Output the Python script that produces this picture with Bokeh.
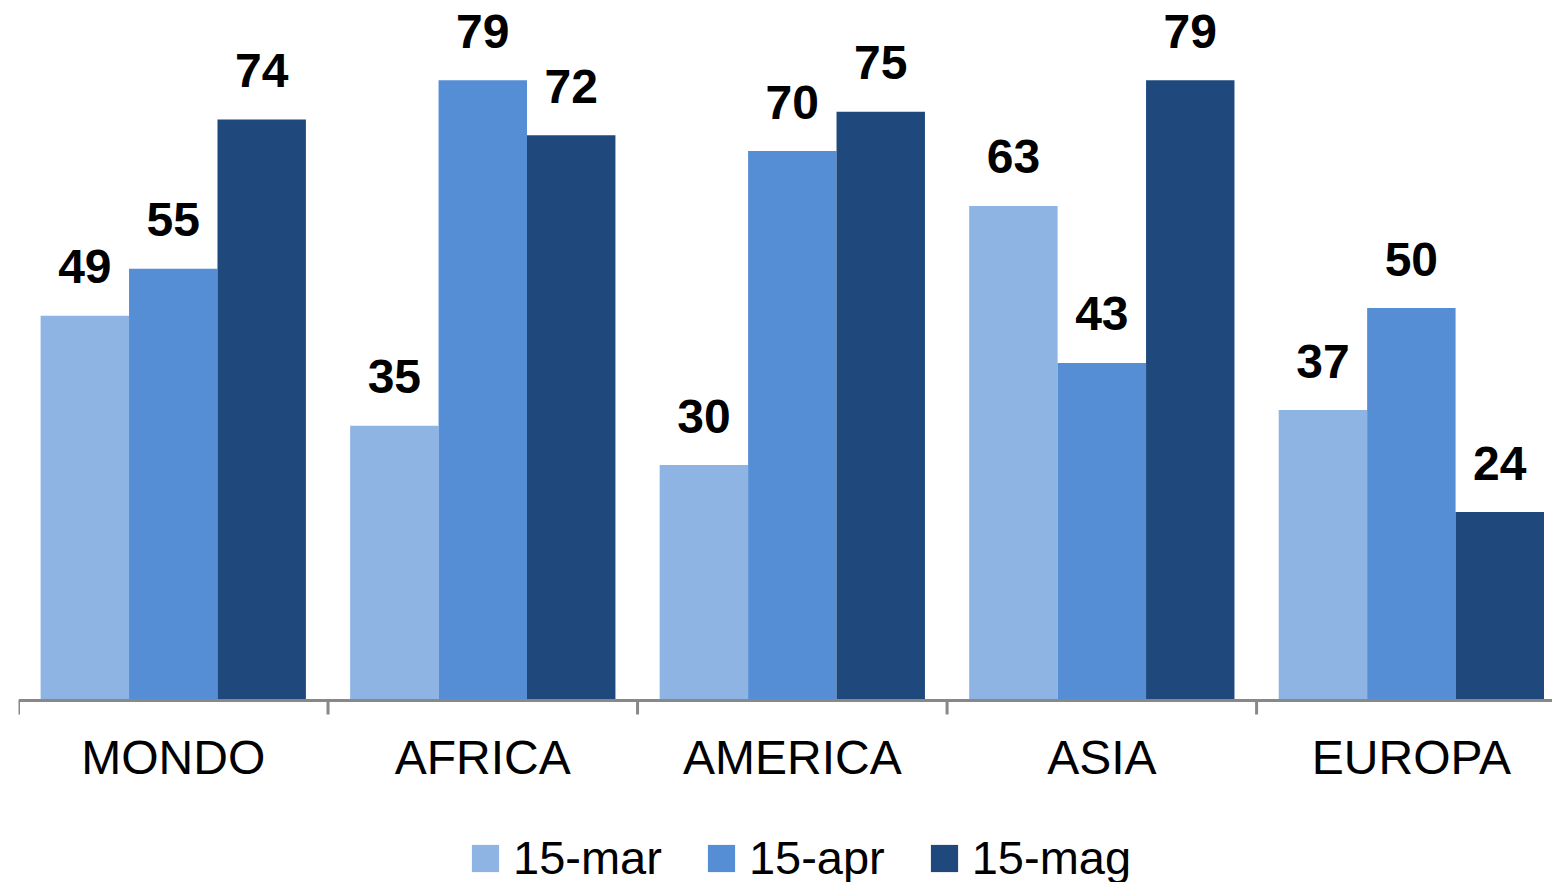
import numpy as np
from bokeh.plotting import figure
from bokeh.models import (Range1d, ColumnDataSource, Legend, LegendItem, Span)
from bokeh.embed import file_html
from bokeh.resources import INLINE
from bokeh.core.properties import value

# ---- data ----
categories = ["MONDO", "AFRICA", "AMERICA", "ASIA", "EUROPA"]
series_names = ["15-mar", "15-apr", "15-mag"]
mar_values = [49, 35, 30, 63, 37]
apr_values = [55, 79, 70, 43, 50]
mag_values = [74, 72, 75, 79, 24]
colors = ["#8EB4E3", "#558ED5", "#1F497D"]

series_values = [mar_values, apr_values, mag_values]

W, H = 1552, 882
PX_PER_UNIT = 7.85
BASE = 700  # screen y of the value-0 baseline
p = figure(width=W, height=H, output_backend="svg", toolbar_location=None,
           x_range=Range1d(0, 4.956),
           y_range=Range1d(-(H - BASE) / PX_PER_UNIT, BASE / PX_PER_UNIT),
           x_axis_location=None, y_axis_location=None,
           min_border_left=18, min_border_right=0, min_border_top=0,
           min_border_bottom=0)
p.outline_line_color = None
p.grid.visible = False
p.background_fill_color = "white"
p.border_fill_color = "white"

bar_w = 0.2857
idx = np.arange(len(categories))
renderers = []
for k, (name, vals, col) in enumerate(zip(series_names, series_values, colors)):
    xs = idx + 0.5 + (k - 1) * bar_w
    src = ColumnDataSource(dict(x=xs, top=vals, label=[str(v) for v in vals]))
    r = p.vbar(x="x", top="top", width=bar_w, bottom=0, source=src,
               fill_color=col, line_color=None)
    renderers.append(r)
    p.text(x="x", y="top", text="label", source=src,
           text_font=value("Liberation Sans"), text_font_style="bold",
           text_font_size="48px", text_color="#000000",
           text_align="center", text_baseline="alphabetic", y_offset=-49)

# category axis: baseline line, boundary ticks, category labels
p.add_layout(Span(location=0, dimension="width", line_color="#888888", line_width=3))
bounds = np.arange(len(categories) + 1)
p.ray(x=bounds, y=np.zeros(len(bounds)), length=14, length_units="screen",
      angle=-90, angle_units="deg", line_color="#888888", line_width=3)
cat_src = ColumnDataSource(dict(x=idx + 0.5, y=np.zeros(len(categories)), text=categories))
p.text(x="x", y="y", text="text", source=cat_src,
       text_font=value("Liberation Sans"), text_font_size="48px",
       text_color="#000000", text_align="center", text_baseline="middle",
       y_offset=57)

legend = Legend(
    items=[LegendItem(label=n, renderers=[r]) for n, r in zip(series_names, renderers)],
    orientation="horizontal", location=(450, -3),
    glyph_width=34, glyph_height=34, label_standoff=11, spacing=42,
    label_text_font="Liberation Sans", label_text_font_size="47px",
    label_text_color="#000000", padding=0, margin=0,
    border_line_color=None, background_fill_alpha=0,
)
p.add_layout(legend, "center")

open("out.html", "w").write(file_html(p, INLINE))
